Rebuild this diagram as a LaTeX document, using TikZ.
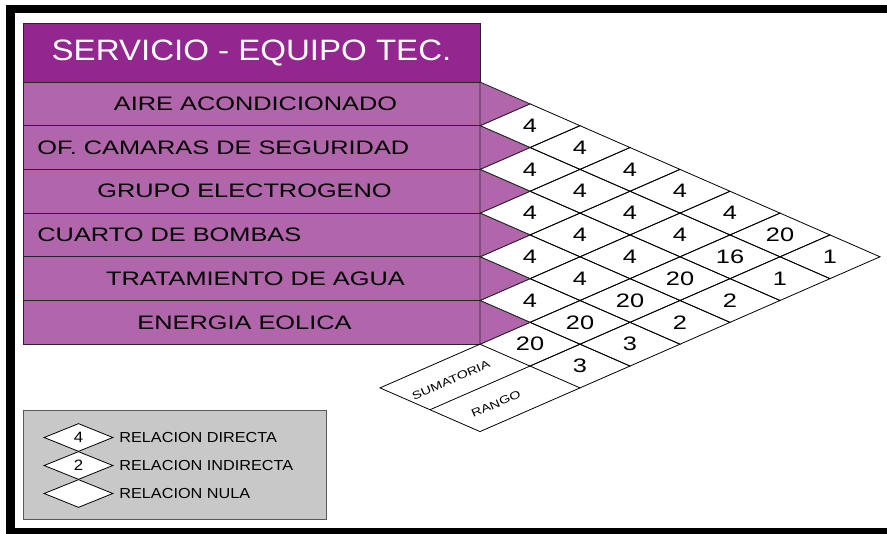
\documentclass[tikz,border=0pt]{standalone}
\usepackage{fontspec}
\setmainfont{Liberation Sans}
\newfontfamily\fa{Liberation Sans}[FakeStretch=1.3]
\newfontfamily\fb{Liberation Sans}[FakeStretch=1.12]
\usetikzlibrary{shapes.geometric}
\definecolor{morado}{RGB}{147,39,143}
\definecolor{lila}{RGB}{177,102,172}
\definecolor{gris}{RGB}{200,200,200}

\begin{document}
\begin{tikzpicture}[x=1pt,y=-1pt,line width=0.8,
tit/.style={draw=black!85,fill=morado,text=white,minimum width=457,minimum height=59,outer sep=0,font=\fb\fontsize{29.5}{30}\selectfont},
fil/.style={draw=black!85,fill=lila,minimum width=457,minimum height=43.7,outer sep=0},
txt/.style={inner sep=0,font=\fa\fontsize{19.5}{20}\selectfont},
cel/.style={draw,diamond,aspect=2.4,minimum width=100,minimum height=43.7,inner sep=0,outer sep=0,font=\fa\fontsize{19.5}{20}\selectfont},
tri/.style={draw=black!85,fill=lila},
lab/.style={inner sep=0,rotate=23.6,font=\fa\fontsize{11}{12}\selectfont},
ley/.style={draw=black!65,fill=gris,minimum width=303,minimum height=109,outer sep=0},
ldm/.style={draw,fill=white,diamond,aspect=2.4,minimum width=69,minimum height=28,inner sep=0,font=\fb\fontsize{15}{15}\selectfont},
ltx/.style={inner sep=0,anchor=west,font=\fb\fontsize{14.5}{15}\selectfont}]
\useasboundingbox (0,0) rectangle (887,534);
\clip (0,0) rectangle (887,534);
\draw[line width=8.5] (10.5,9) rectangle (900,532);
\node[tit] (h) at (251.5,52.5) {SERVICIO - EQUIPO TEC.};
\node[fil] (r1) at (251.5,103.85) {};
\node[fil] (r2) at (251.5,147.55) {};
\node[fil] (r3) at (251.5,191.25) {};
\node[fil] (r4) at (251.5,234.95) {};
\node[fil] (r5) at (251.5,278.65) {};
\node[fil] (r6) at (251.5,322.35) {};
\node[txt] (t1) at (255.5,103.85) {AIRE ACONDICIONADO};
\node[txt,anchor=west] (t2) at (37,147.55) {OF. CAMARAS DE SEGURIDAD};
\node[txt] (t3) at (244.5,191.25) {GRUPO ELECTROGENO};
\node[txt,anchor=west] (t4) at (37,234.95) {CUARTO DE BOMBAS};
\node[txt] (t5) at (255.5,278.65) {TRATAMIENTO DE AGUA};
\node[txt] (t6) at (244.5,322.35) {ENERGIA EOLICA};
\node[cel] (c12) at (530,125.7) {4};
\node[cel] (c13) at (580,147.55) {4};
\node[cel] (c14) at (630,169.4) {4};
\node[cel] (c15) at (680,191.25) {4};
\node[cel] (c16) at (730,213.1) {4};
\node[cel] (c17) at (780,234.95) {20};
\node[cel] (c18) at (830,256.8) {1};
\node[cel] (c23) at (530,169.4) {4};
\node[cel] (c24) at (580,191.25) {4};
\node[cel] (c25) at (630,213.1) {4};
\node[cel] (c26) at (680,234.95) {4};
\node[cel] (c27) at (730,256.8) {16};
\node[cel] (c28) at (780,278.65) {1};
\node[cel] (c34) at (530,213.1) {4};
\node[cel] (c35) at (580,234.95) {4};
\node[cel] (c36) at (630,256.8) {4};
\node[cel] (c37) at (680,278.65) {20};
\node[cel] (c38) at (730,300.5) {2};
\node[cel] (c45) at (530,256.8) {4};
\node[cel] (c46) at (580,278.65) {4};
\node[cel] (c47) at (630,300.5) {20};
\node[cel] (c48) at (680,322.35) {2};
\node[cel] (c56) at (530,300.5) {4};
\node[cel] (c57) at (580,322.35) {20};
\node[cel] (c58) at (630,344.2) {3};
\node[cel] (c67) at (530,344.2) {20};
\node[cel] (c68) at (580,366.05) {3};
\filldraw[tri] (r1.north east)--(c12.north)--(r1.south east)--cycle;
\filldraw[tri] (r2.north east)--(c23.north)--(r2.south east)--cycle;
\filldraw[tri] (r3.north east)--(c34.north)--(r3.south east)--cycle;
\filldraw[tri] (r4.north east)--(c45.north)--(r4.south east)--cycle;
\filldraw[tri] (r5.north east)--(c56.north)--(r5.south east)--cycle;
\filldraw[tri] (r6.north east)--(c67.north)--(r6.south east)--cycle;
\draw (c67.west)--++(-100,43.7)--++(50,21.85) coordinate (k)--(c67.south);
\draw (k)--++(50,21.85)--(c68.south);
\node[lab] (sm) at (451,380) {SUMATORIA};
\node[lab] (rg) at (496,404) {RANGO};
\node[ley] (ley) at (174.5,464.5) {};
\node[ldm] (d1) at (78.5,437.5) {4};
\node[ldm] (d2) at (78.5,465.5) {2};
\node[ldm] (d3) at (78.5,493.5) {};
\node[ltx] (e1) at (119,437.5) {RELACION DIRECTA};
\node[ltx] (e2) at (119,465.5) {RELACION INDIRECTA};
\node[ltx] (e3) at (119,493.5) {RELACION NULA};
\end{tikzpicture}
\end{document}
